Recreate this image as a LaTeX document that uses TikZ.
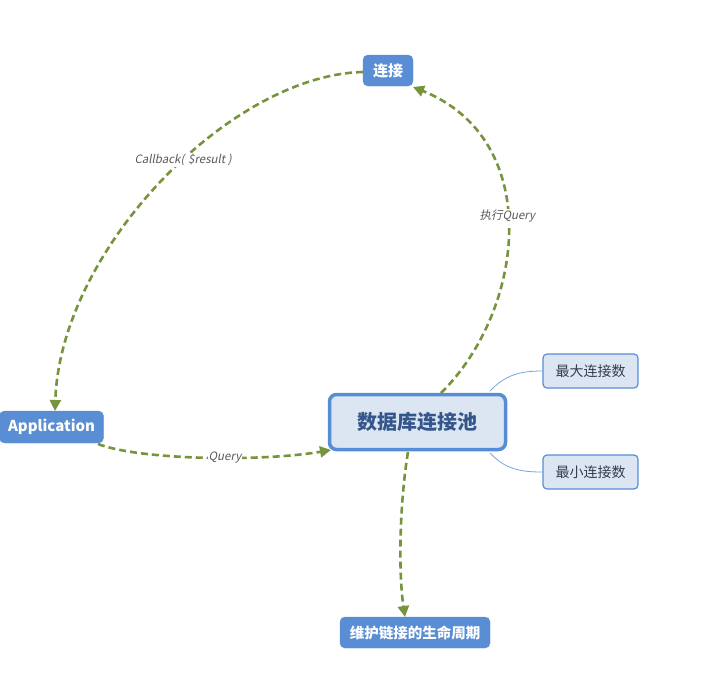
\documentclass[tikz,border=0pt]{standalone}
\usepackage{fontspec}
\setmainfont{Noto Sans CJK SC}
\newfontfamily\labfont[FakeSlant=0.2]{Noto Sans CJK SC}
\usetikzlibrary{arrows.meta}
\definecolor{topicblue}{HTML}{5A8ED4}
\definecolor{paleblue}{HTML}{DCE6F2}
\definecolor{edgeblue}{HTML}{558ED5}
\definecolor{poolText}{HTML}{34568A}
\definecolor{subText}{HTML}{333F50}
\definecolor{flowgreen}{HTML}{77933C}
\definecolor{labgray}{HTML}{595959}
\tikzset{
  x=1pt, y=-1pt,
  topic/.style={fill=topicblue, draw=topicblue, rounded corners=5pt, text=white, font=\bfseries\fontsize{15}{17}\selectfont, inner sep=0pt, align=center},
  pool/.style={fill=paleblue, draw=edgeblue, line width=3.5pt, rounded corners=7pt, text=poolText, font=\bfseries\fontsize{20}{22}\selectfont, inner sep=0pt, minimum width=176pt, minimum height=55pt},
  sub/.style={fill=paleblue, draw=edgeblue, line width=1.2pt, rounded corners=4pt, text=subText, font=\fontsize{14}{16}\selectfont, inner sep=0pt, minimum width=95pt, minimum height=34pt},
  flow/.style={draw=flowgreen, line width=2.6pt, dash pattern=on 7pt off 4pt, -{Triangle[length=11pt,width=11pt]}},
  branch/.style={draw=edgeblue!80, line width=0.8pt},
  lab/.style={fill=white, inner sep=1pt, text=labgray, font=\labfont\fontsize{11.5}{13}\selectfont}
}
\begin{document}
\begin{tikzpicture}
\useasboundingbox (0,0) rectangle (720,681);
\node[topic, minimum width=50pt, minimum height=31pt] (conn) at (388,70.5) {连接};
\node[topic, minimum width=104pt, minimum height=32pt] (app) at (51.5,427) {Application};
\node[pool] (pool) at (417.5,422) {数据库连接池};
\node[sub] (max) at (590.5,371) {最大连接数};
\node[sub] (min) at (590.5,472) {最小连接数};
\node[topic, minimum width=150pt, minimum height=31pt, font=\bfseries\fontsize{14.5}{16}\selectfont] (life) at (415,632.5) {维护链接的生命周期};

\coordinate (c1) at (363,72);
\coordinate (a1) at (55,411);
\draw[flow] (c1) .. controls (230,75) and (60,250) .. (a1)
  node[lab, pos=0.44] (cbl) {Callback(\,\,\$result )};

\coordinate (p1) at (441,393);
\coordinate (c2) at (413,87);
\draw[flow] (p1) .. controls (525,310) and (545,140) .. (c2)
  node[lab, pos=0.535] (exl) {执行Query};

\coordinate (a2) at (98,444);
\coordinate (p2) at (331,450);
\draw[flow] (a2) .. controls (140,460) and (260,462) .. (p2)
  node[lab, pos=0.58] (ql) {Query};

\coordinate (p3) at (408,452);
\coordinate (l1) at (405,617);
\draw[flow] (p3) .. controls (400,500) and (398,570) .. (l1);

\coordinate (p4) at (490,391);
\coordinate (p5) at (490,453);
\draw[branch] (p4) .. controls (505,375) and (520,371) .. (max.west);
\draw[branch] (p5) .. controls (505,469) and (520,472) .. (min.west);
\end{tikzpicture}
\end{document}
